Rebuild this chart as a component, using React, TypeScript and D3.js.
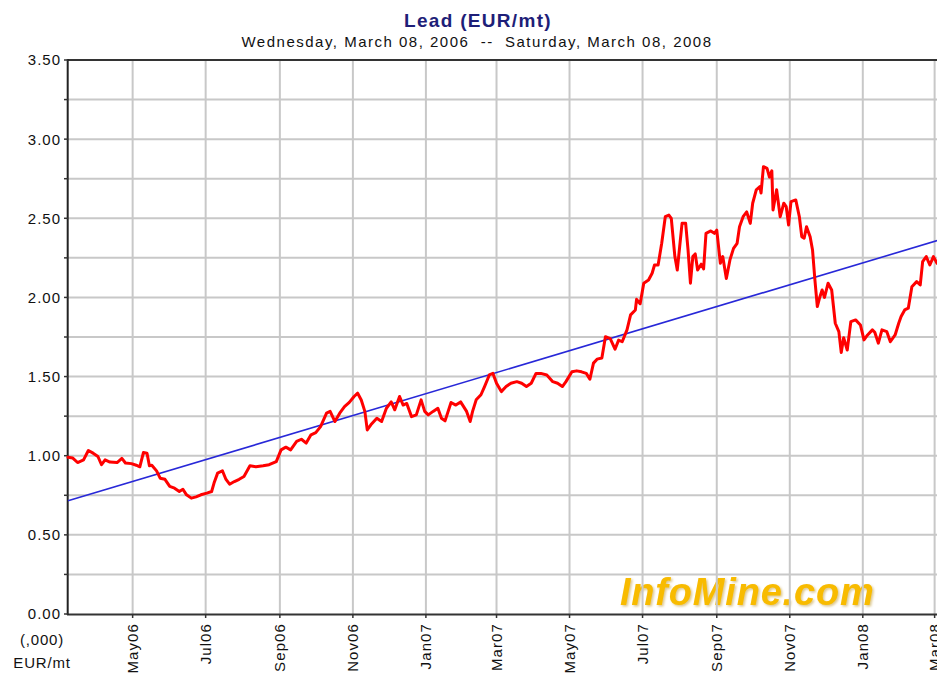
import React from 'react';
import * as d3 from 'd3';

const W = 937;
const H = 676;

const chartTitle = 'Lead (EUR/mt)';
const chartSubtitle = 'Wednesday, March 08, 2006  --  Saturday, March 08, 2008';
const unitLines = ['(,000)', 'EUR/mt'];
const logoText = 'InfoMine.com';

const domainDates = ['2006-03-08', '2008-03-08'];
const yDomain = [0, 3.5];
const gridStep = 0.25;
const labelStep = 0.5;

const leadDates = [
  '2006-03-08','2006-03-12','2006-03-16','2006-03-21','2006-03-25','2006-03-29','2006-04-02','2006-04-05','2006-04-08','2006-04-12',
  '2006-04-18','2006-04-22','2006-04-25','2006-04-30','2006-05-04','2006-05-07','2006-05-10','2006-05-13','2006-05-15','2006-05-17',
  '2006-05-21','2006-05-24','2006-05-28','2006-06-01','2006-06-05','2006-06-09','2006-06-12','2006-06-15','2006-06-19','2006-06-23',
  '2006-06-27','2006-07-02','2006-07-06','2006-07-08','2006-07-11','2006-07-15','2006-07-18','2006-07-21','2006-07-25','2006-07-29',
  '2006-08-02','2006-08-07','2006-08-12','2006-08-18','2006-08-23','2006-08-29','2006-09-02','2006-09-06','2006-09-10','2006-09-15',
  '2006-09-19','2006-09-23','2006-09-27','2006-10-01','2006-10-05','2006-10-10','2006-10-13','2006-10-17','2006-10-21','2006-10-25',
  '2006-10-29','2006-11-02','2006-11-05','2006-11-08','2006-11-11','2006-11-13','2006-11-16','2006-11-21','2006-11-25','2006-11-29',
  '2006-12-03','2006-12-06','2006-12-10','2006-12-13','2006-12-16','2006-12-20','2006-12-24','2006-12-28','2006-12-31','2007-01-03',
  '2007-01-07','2007-01-11','2007-01-14','2007-01-17','2007-01-22','2007-01-26','2007-01-30','2007-02-04','2007-02-07','2007-02-09',
  '2007-02-12','2007-02-16','2007-02-19','2007-02-23','2007-02-26','2007-03-01','2007-03-05','2007-03-09','2007-03-13','2007-03-18',
  '2007-03-22','2007-03-26','2007-03-30','2007-04-03','2007-04-07','2007-04-12','2007-04-17','2007-04-21','2007-04-25','2007-04-28',
  '2007-05-03','2007-05-07','2007-05-11','2007-05-15','2007-05-18','2007-05-21','2007-05-24','2007-05-28','2007-05-31','2007-06-04',
  '2007-06-08','2007-06-11','2007-06-14','2007-06-18','2007-06-21','2007-06-25','2007-06-26','2007-06-29','2007-07-02','2007-07-06',
  '2007-07-09','2007-07-11','2007-07-14','2007-07-17','2007-07-20','2007-07-23','2007-07-25','2007-07-28','2007-07-30','2007-08-01',
  '2007-08-03','2007-08-06','2007-08-08','2007-08-10','2007-08-12','2007-08-14','2007-08-16','2007-08-19','2007-08-21','2007-08-23',
  '2007-08-27','2007-08-30','2007-09-01','2007-09-04','2007-09-06','2007-09-09','2007-09-12','2007-09-15','2007-09-18','2007-09-20',
  '2007-09-23','2007-09-26','2007-09-29','2007-10-01','2007-10-04','2007-10-07','2007-10-08','2007-10-10','2007-10-13','2007-10-15',
  '2007-10-17','2007-10-18','2007-10-21','2007-10-24','2007-10-27','2007-10-29','2007-10-31','2007-11-02','2007-11-06','2007-11-09',
  '2007-11-11','2007-11-13','2007-11-15','2007-11-18','2007-11-20','2007-11-22','2007-11-24','2007-11-26','2007-11-28','2007-11-30',
  '2007-12-03','2007-12-06','2007-12-09','2007-12-12','2007-12-14','2007-12-16','2007-12-19','2007-12-22','2007-12-26','2007-12-30',
  '2008-01-02','2008-01-05','2008-01-09','2008-01-11','2008-01-14','2008-01-17','2008-01-21','2008-01-24','2008-01-28','2008-01-31',
  '2008-02-02','2008-02-05','2008-02-08','2008-02-11','2008-02-15','2008-02-18','2008-02-20','2008-02-23','2008-02-26','2008-02-29',
  '2008-03-03','2008-03-07'
];

const leadValues = [
  0.99, 0.985, 0.957, 0.974, 1.033, 1.016, 0.995, 0.943, 0.974, 0.96,
  0.957, 0.983, 0.954, 0.95, 0.94, 0.93, 1.02, 1.016, 0.937, 0.94,
  0.904, 0.858, 0.851, 0.806, 0.795, 0.774, 0.788, 0.753, 0.732, 0.74,
  0.753, 0.764, 0.774, 0.827, 0.89, 0.905, 0.85, 0.82, 0.837, 0.851,
  0.869, 0.936, 0.93, 0.936, 0.943, 0.963, 1.037, 1.054, 1.037, 1.09,
  1.104, 1.08, 1.132, 1.146, 1.184, 1.269, 1.28, 1.216, 1.269, 1.31,
  1.337, 1.374, 1.395, 1.352, 1.28, 1.163, 1.195, 1.237, 1.216, 1.3,
  1.34, 1.29, 1.374, 1.32, 1.33, 1.247, 1.258, 1.353, 1.28, 1.258,
  1.28, 1.3, 1.237, 1.22, 1.336, 1.32, 1.34, 1.28, 1.216, 1.28,
  1.353, 1.385, 1.437, 1.51, 1.52, 1.458, 1.405, 1.437, 1.458, 1.468,
  1.458, 1.437, 1.458, 1.52, 1.52, 1.51, 1.468, 1.458, 1.437, 1.468,
  1.53, 1.536, 1.53, 1.52, 1.483, 1.585, 1.61, 1.617, 1.752, 1.74,
  1.673, 1.73, 1.72, 1.795, 1.89, 1.921, 1.988, 1.96, 2.09, 2.11,
  2.153, 2.205, 2.205, 2.342, 2.51, 2.52, 2.5, 2.258, 2.173, 2.32,
  2.468, 2.468, 2.3, 2.09, 2.258, 2.275, 2.173, 2.21, 2.18, 2.405,
  2.42, 2.405, 2.425, 2.216, 2.258, 2.12, 2.237, 2.31, 2.342, 2.447,
  2.51, 2.54, 2.468, 2.595, 2.68, 2.7, 2.66, 2.826, 2.815, 2.76,
  2.8, 2.553, 2.68, 2.51, 2.595, 2.574, 2.458, 2.605, 2.616, 2.51,
  2.384, 2.374, 2.447, 2.384, 2.3, 2.11, 1.942, 2.0, 2.047, 2.0,
  2.09, 2.047, 1.837, 1.784, 1.652, 1.745, 1.668, 1.847, 1.858, 1.826,
  1.732, 1.763, 1.795, 1.78, 1.711, 1.795, 1.784, 1.72, 1.763, 1.837,
  1.879, 1.921, 1.932, 2.068, 2.1, 2.079, 2.226, 2.258, 2.205, 2.258,
  2.216, 2.23
];

const trendDates = ['2006-03-08', '2008-03-08'];
const trendValues = [0.715, 2.37];

const FONT = '"Liberation Sans", Arial, sans-serif';

export default function App() {
  const parse = d3.timeParse('%Y-%m-%d');
  const x = d3.scaleTime().domain(domainDates.map((d) => parse(d) as Date)).range([68, 943]);
  const y = d3.scaleLinear().domain(yDomain).range([614, 60]);

  const monthTicks = x.ticks(d3.timeMonth.every(2) as d3.TimeInterval);
  const fmtMonth = d3.timeFormat('%b%y');

  const gridVals = d3.range(yDomain[0], yDomain[1] + 1e-9, gridStep);
  const labelVals = d3.range(yDomain[0], yDomain[1] + 1e-9, labelStep);

  const leadPts: [Date, number][] = leadDates.map((d, i) => [parse(d) as Date, leadValues[i]]);
  const trendPts: [Date, number][] = trendDates.map((d, i) => [parse(d) as Date, trendValues[i]]);

  const line = d3
    .line<[Date, number]>()
    .x((d) => x(d[0]))
    .y((d) => y(d[1]));

  const [x0, x1] = x.range();
  const [yb, yt] = y.range();

  return (
    <svg
      width={W}
      height={H}
      viewBox={`0 0 ${W} ${H}`}
      style={{ position: 'absolute', left: 0, top: 0, background: '#fff' }}
      fontFamily={FONT}
    >
      <defs>
        <filter id="logoShadow" x="-5%" y="-20%" width="110%" height="150%">
          <feDropShadow dx="1.5" dy="1.5" stdDeviation="0.8" floodColor="#b08000" floodOpacity="0.45" />
        </filter>
      </defs>
      <rect x={0} y={0} width={W} height={H} fill="#fff" />

      {/* title */}
      <text x={478} y={27} textAnchor="middle" fontSize={19} fontWeight="bold" fill="#1e1e78" letterSpacing={1.3}>
        {chartTitle}
      </text>
      <text
        x={477}
        y={47}
        textAnchor="middle"
        fontSize={15}
        fill="#111"
        letterSpacing={1.5}
        style={{ whiteSpace: 'pre' }}
      >
        {chartSubtitle}
      </text>

      {/* logo (under grid) */}
      <text
        x={620}
        y={605}
        fontSize={38}
        fontWeight="bold"
        fontStyle="italic"
        fill="#f8bb00"
        letterSpacing={0.8}
        filter="url(#logoShadow)"
      >
        {logoText}
      </text>

      {/* grid */}
      {gridVals
        .filter((v) => v > yDomain[0] && v < yDomain[1])
        .map((v) => (
          <line key={'h' + v} x1={x0} x2={x1} y1={y(v)} y2={y(v)} stroke="#c8c8c8" strokeWidth={2} />
        ))}
      {monthTicks.map((t) => (
        <line key={'v' + t.getTime()} x1={x(t)} x2={x(t)} y1={yt} y2={yb} stroke="#c8c8c8" strokeWidth={2} />
      ))}

      {/* axes */}
      <line x1={x0 - 0.3} x2={x1} y1={yt} y2={yt} stroke="#333" strokeWidth={2} />
      <line x1={x0 - 1} x2={x1} y1={yb + 0.5} y2={yb + 0.5} stroke="#333" strokeWidth={2} />
      <line x1={x0 - 0.3} x2={x0 - 0.3} y1={yt - 1} y2={yb + 1} stroke="#222" strokeWidth={2} />

      {gridVals.map((v) => (
        <line key={'yt' + v} x1={x0 - 4} x2={x0} y1={y(v)} y2={y(v)} stroke="#333" strokeWidth={1.5} />
      ))}
      {labelVals.map((v) => (
        <text key={'yl' + v} x={61} y={y(v)} dy="0.36em" textAnchor="end" fontSize={15} fill="#111" letterSpacing={1}>
          {v.toFixed(2)}
        </text>
      ))}

      {monthTicks.map((t) => (
        <g key={'xt' + t.getTime()}>
          <line x1={x(t)} x2={x(t)} y1={yb} y2={yb + 4} stroke="#333" strokeWidth={1.5} />
          <text
            transform={`translate(${x(t)},${yb + 9}) rotate(-90)`}
            textAnchor="end"
            dy="0.36em"
            fontSize={15}
            fill="#111"
            letterSpacing={1.1}
          >
            {fmtMonth(t)}
          </text>
        </g>
      ))}

      {unitLines.map((u, i) => (
        <text key={u} x={42} y={645 + i * 23} textAnchor="middle" fontSize={15} fill="#111" letterSpacing={0.8}>
          {u}
        </text>
      ))}

      {/* series */}
      <path d={line(trendPts) || ''} fill="none" stroke="#2828d8" strokeWidth={1.6} />
      <path
        d={line(leadPts) || ''}
        fill="none"
        stroke="#ff0000"
        strokeWidth={3}
        strokeLinejoin="round"
        strokeLinecap="round"
      />
    </svg>
  );
}
